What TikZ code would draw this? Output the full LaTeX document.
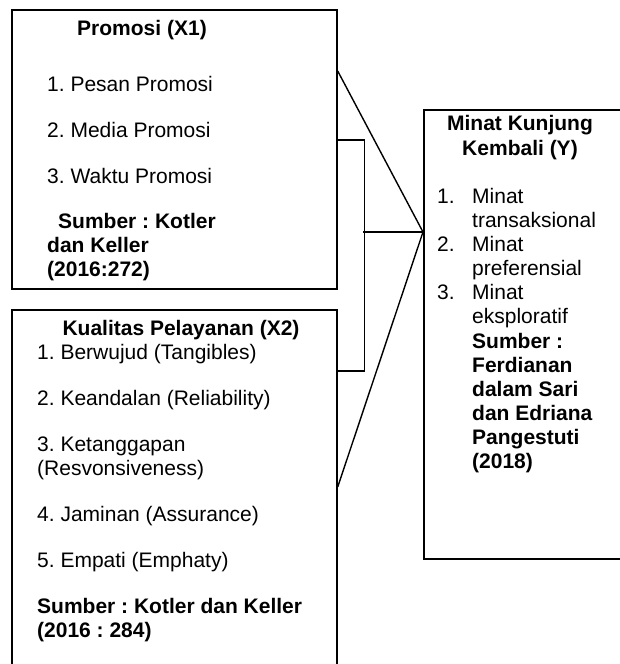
\documentclass[tikz,border=0pt]{standalone}
\usepackage{fontspec}
\setmainfont{Liberation Sans}
\usepackage{tikz}
\usetikzlibrary{positioning, calc}

\tikzset{
  box/.style={draw, line width=1.7pt, rectangle, anchor=north west, inner sep=0pt},
  txt/.style={anchor=base west, inner sep=0pt, font=\fontsize{21}{24}\selectfont\frenchspacing},
  src/.style={txt, font=\fontsize{21}{24}\selectfont\frenchspacing\bfseries},
  head/.style={anchor=base, inner sep=0pt, font=\fontsize{21}{24}\selectfont\frenchspacing\bfseries},
  link/.style={line width=1.4pt}
}

\begin{document}
\begin{tikzpicture}[x=1pt, y=-1pt]
  \useasboundingbox (0,0) rectangle (620,664);
  \clip (0,0) rectangle (620,664);
  \node[box, minimum width=325pt, minimum height=279pt] (promosi) at (11,9) {};
  \node[box, minimum width=325pt, minimum height=380pt] (kualitas) at (11,309) {};
  \node[box, minimum width=230pt, minimum height=449pt] (kunjung) at (423,109) {};

  \node[head] (promosi-t) at (142,35) {Promosi (X1)};
  \foreach \y/\lab in {91/{1. Pesan Promosi}, 137/{2. Media Promosi}, 183/{3. Waktu Promosi}}
    \node[txt] (promosi-\y) at (47,\y) {\lab};
  \node[src] (promosi-s1) at (58,228) {Sumber : Kotler};
  \node[src] (promosi-s2) at (47,252) {dan Keller};
  \node[src] (promosi-s3) at (47,276) {(2016:272)};

  \node[head] (kualitas-t) at (181,335) {Kualitas Pelayanan (X2)};
  \foreach \y/\lab in {359/{1. Berwujud (Tangibles)}, 405/{2. Keandalan (Reliability)},
                       451/{3. Ketanggapan}, 475/{(Resvonsiveness)},
                       521/{4. Jaminan (Assurance)}, 567/{5. Empati (Emphaty)}}
    \node[txt] (kualitas-\y) at (37,\y) {\lab};
  \node[src] (kualitas-s1) at (37,613) {Sumber : Kotler dan Keller};
  \node[src] (kualitas-s2) at (37,637) {(2016 : 284)};

  \node[head] (kunjung-t1) at (520,130) {Minat Kunjung};
  \node[head] (kunjung-t2) at (520,155) {Kembali (Y)};
  \foreach \y/\n in {203/1., 251/2., 299/3.}
    \node[txt] (kunjung-n\y) at (437,\y) {\n};
  \foreach \y/\lab in {203/Minat, 227/transaksional, 251/Minat, 275/preferensial,
                       299/Minat, 323/eksploratif}
    \node[txt] (kunjung-\y) at (472,\y) {\lab};
  \foreach \y/\lab in {348/{Sumber :}, 372/Ferdianan, 396/{dalam Sari},
                       420/{dan Edriana}, 444/Pangestuti, 468/(2018)}
    \node[src] (kunjung-\y) at (472,\y) {\lab};

  \coordinate (hub) at ([yshift=-123pt]kunjung.north west);
  \coordinate (brk) at ([xshift=-60pt]hub);
  \draw[link] ([yshift=-62pt]promosi.north east) -- (hub) -- ([yshift=-178pt]kualitas.north east);
  \draw[link] ([yshift=-131pt]promosi.north east) -| ([xshift=27pt,yshift=-62pt]kualitas.north east)
              -- ([yshift=-62pt]kualitas.north east);
  \draw[link] (brk) -- (hub);
\end{tikzpicture}
\end{document}
